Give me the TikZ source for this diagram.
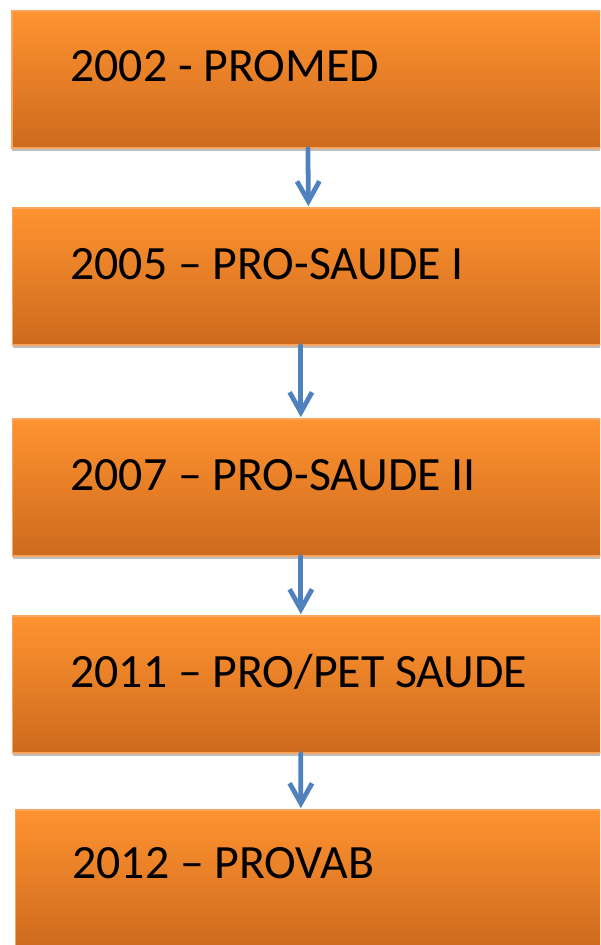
\documentclass[tikz,border=0pt]{standalone}
\usepackage{fontspec}
\setmainfont{Carlito}
\usepackage{tikz}
\usetikzlibrary{arrows.meta,calc,positioning,shadows}
\definecolor{boxtop}{HTML}{FF9330}
\definecolor{boxbot}{HTML}{CD6A1E}
\definecolor{boxedge}{HTML}{F9A55E}
\definecolor{arrowblue}{HTML}{4F81BD}
\tikzset{
  stagebox/.style={draw=boxedge,line width=1.2pt,top color=boxtop,bottom color=boxbot,
    minimum width=15.5cm,minimum height=3.425cm,inner sep=0pt,anchor=north west,
    drop shadow={shadow xshift=0.4pt,shadow yshift=-2.5pt,opacity=0.25,fill=black}},
  stagetext/.style={anchor=base west,inner sep=0pt,font=\fontsize{34}{40}\selectfont,text=black},
  downarr/.style={-{Straight Barb[length=5mm,width=5.6mm]},line width=3.4pt,color=arrowblue,
    line cap=round,line join=round}
}

\begin{document}
\begin{tikzpicture}[x=0.025cm,y=-0.025cm]
  \useasboundingbox (0,0) rectangle (600,945);
  \clip (0,0) rectangle (600,945);
  \fill[white] (0,0) rectangle (600,945);

  % year boxes
  \node[stagebox] (b1) at (11,10) {};
  \node[stagebox] (b2) at (11.5,207) {};
  \node[stagebox] (b3) at (11.5,418) {};
  \node[stagebox] (b4) at (11.5,615) {};
  \node[stagebox] (b5) at (14.5,809) {};

  \node[stagetext] (t1) at (70,82) {2002 - PROMED};
  \node[stagetext] (t2) at (70,279) {2005 – PRO-SAUDE I};
  \node[stagetext] (t3) at (70,490) {2007 – PRO-SAUDE II};
  \node[stagetext] (t4) at (70,687) {2011 – PRO/PET SAUDE};
  \node[stagetext] (t5) at (72,878) {2012 – PROVAB};

  % links
  \draw[downarr] ([xshift=-0.35cm]b1.south) -- ([xshift=-0.35cm,yshift=0.6pt]b2.north);
  \draw[downarr] ([xshift=-0.54cm]b2.south) -- ([xshift=-0.54cm,yshift=0.6pt]b3.north);
  \draw[downarr] ([xshift=-0.54cm]b3.south) -- ([xshift=-0.54cm,yshift=0.6pt]b4.north);
  \draw[downarr] ([xshift=-0.54cm]b4.south) -- ([xshift=-0.615cm,yshift=0.6pt]b5.north);
\end{tikzpicture}
\end{document}
